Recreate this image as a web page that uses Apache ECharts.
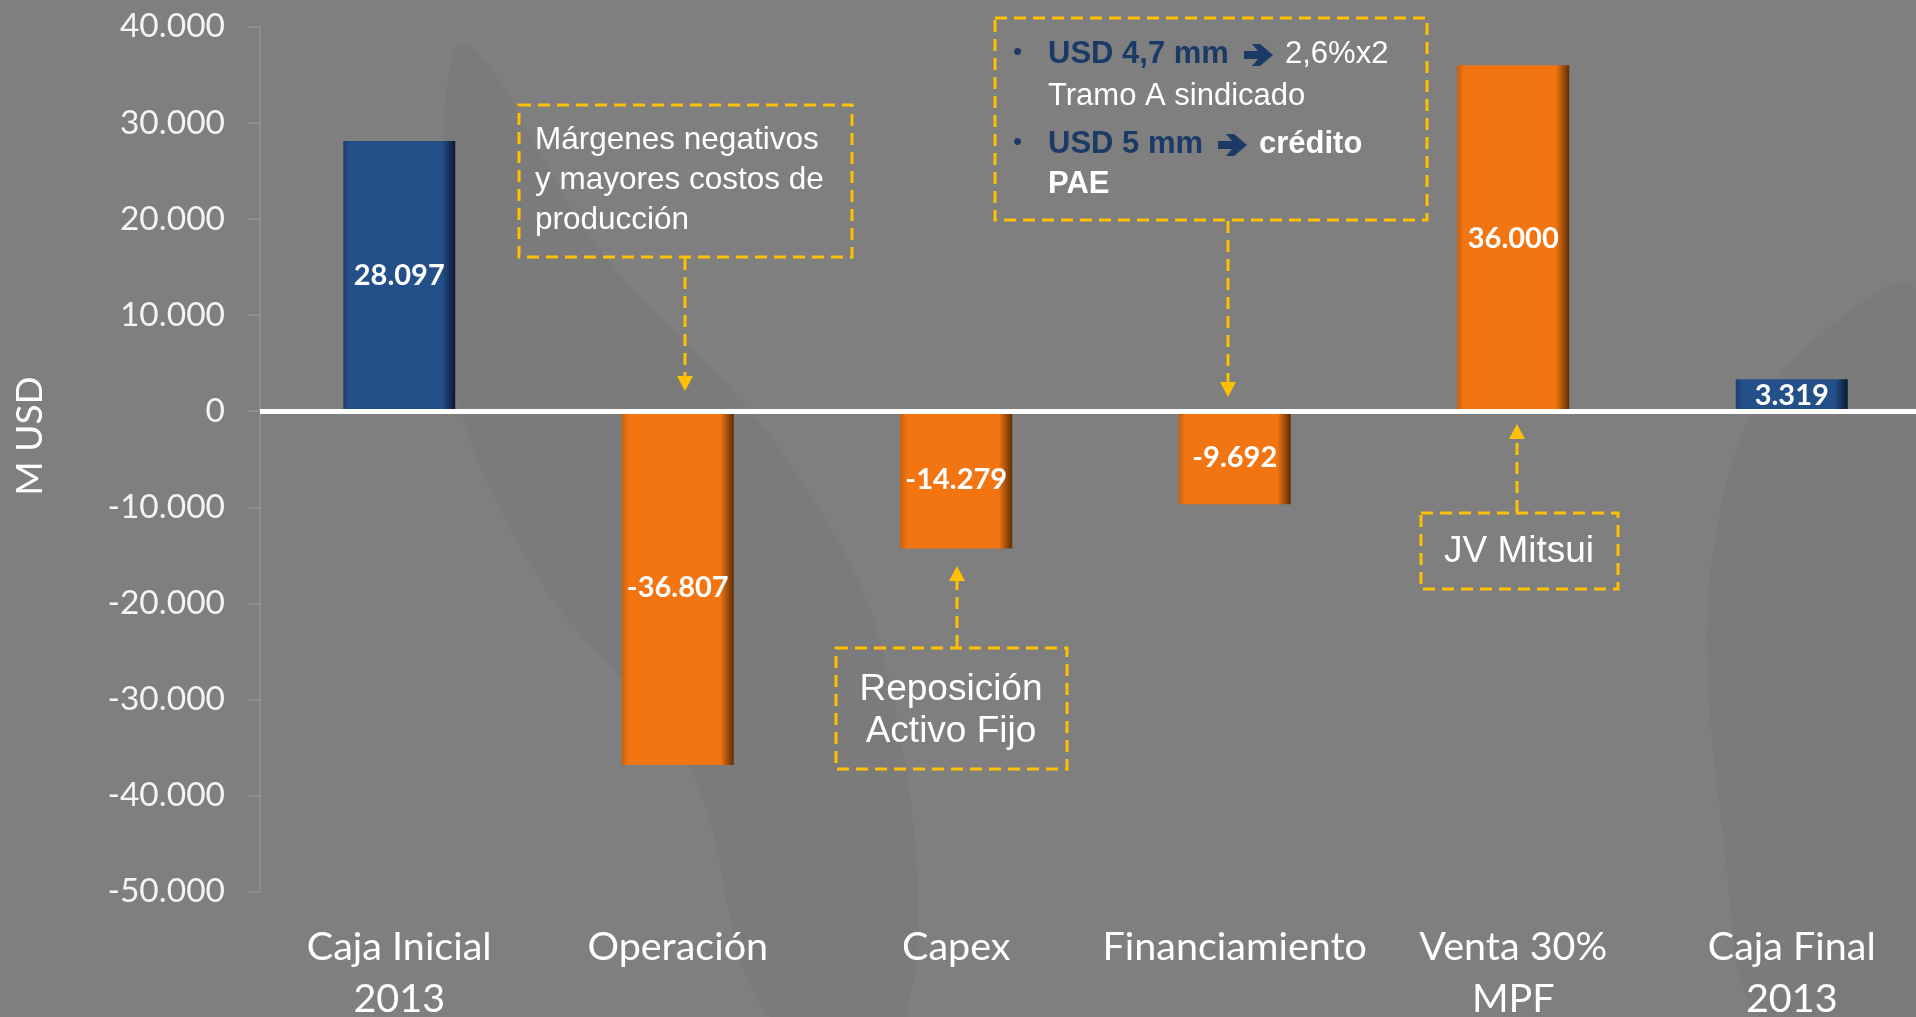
<!DOCTYPE html>
<html>
<head>
<meta charset="utf-8">
<script src="https://cdn.jsdelivr.net/npm/echarts@6/dist/echarts.min.js"></script>
<style>
html,body{margin:0;padding:0;background:#7f7f7f;}
#c{width:1916px;height:1017px;}
</style>
</head>
<body>
<div id="c"></div>
<script>
// ---- data ----
const categories = ['Caja Inicial\n2013', 'Operación', 'Capex', 'Financiamiento', 'Venta 30%\nMPF', 'Caja Final\n2013'];
const values = [28097, -36807, -14279, -9692, 36000, 3319];
const barKinds = ['total', 'change', 'change', 'change', 'change', 'total'];
const yMin = -50000, yMax = 40000, yStep = 10000;
const axisName = 'M USD';

function fmt(v) {
  const s = Math.abs(Math.round(v)).toString().replace(/\B(?=(\d{3})+(?!\d))/g, '.');
  return (v < 0 ? '-' : '') + s;
}
function grad(base, edgeL, edgeR) {
  return new echarts.graphic.LinearGradient(0, 0, 1, 0, [
    {offset: 0, color: edgeL}, {offset: 0.06, color: base},
    {offset: 0.88, color: base}, {offset: 1, color: edgeR}
  ]);
}
const blueFill = grad('#24508a', '#1c3f6e', '#0a1830');
const orangeFill = grad('#f27511', '#c85f0c', '#5e2d04');

const chart = echarts.init(document.getElementById('c'), null, {renderer: 'canvas'});

const gold = '#ffc000';
const dash = [12, 7];
const navy = '#1b3a66';
const arial = '"Liberation Sans", Arial, sans-serif';

function box(x, y, w, h) {
  return {type: 'rect', shape: {x: x, y: y, width: w, height: h},
    style: {fill: 'none', stroke: gold, lineWidth: 3, lineDash: dash}, z: 10, silent: true};
}
function vline(x, y1, y2) {
  return {type: 'line', shape: {x1: x, y1: y1, x2: x, y2: y2},
    style: {stroke: gold, lineWidth: 3, lineDash: dash}, z: 10, silent: true};
}
function tri(x, tipY, dir) { // dir: 1 = pointing down, -1 = pointing up
  const h = 15, hw = 8;
  const b = tipY - dir * h;
  return {type: 'polygon', shape: {points: [[x, tipY], [x - hw, b], [x + hw, b]]},
    style: {fill: gold}, z: 10, silent: true};
}
function heavyArrow(x0, cy) {
  return {type: 'polygon', z: 11, silent: true,
    shape: {points: [[x0, cy - 4], [x0 + 14, cy - 4], [x0 + 8, cy - 11], [x0 + 16, cy - 11],
      [x0 + 29, cy], [x0 + 16, cy + 11], [x0 + 8, cy + 11], [x0 + 14, cy + 4], [x0, cy + 4]]},
    style: {fill: navy}};
}
function txt(x, y, text, opts) {
  return Object.assign({type: 'text', x: x, y: y, z: 11, silent: true,
    style: Object.assign({text: text, fill: '#ffffff', font: '31px ' + arial,
      align: 'left', verticalAlign: 'middle', textAlign: 'left', textVerticalAlign: 'middle'}, opts || {})});
}

const graphics = [
  // subtle background decoration
  {type: 'polygon', z: -10, silent: true,
   shape: {smooth: 0.35, points: [[465, 43], [442, 200], [455, 390], [540, 580], [690, 770], [770, 1017],
     [905, 1017], [885, 660], [780, 450], [600, 250]]},
   style: {fill: 'rgba(0,0,0,0.03)'}},
  {type: 'polygon', z: -10, silent: true,
   shape: {smooth: 0.3, points: [[1916, 290], [1760, 400], [1708, 600], [1725, 850], [1760, 1017], [1916, 1017]]},
   style: {fill: 'rgba(0,0,0,0.03)'}},
  // axis name
  {type: 'text', x: 30, y: 436, rotation: Math.PI / 2, z: 11, silent: true,
   style: {text: axisName, fill: '#ffffff', font: '37px Lato', align: 'center', verticalAlign: 'middle',
     textAlign: 'center', textVerticalAlign: 'middle'}},
  // Box 1 - Operación
  box(519, 105, 333, 152),
  txt(535, 180, 'Márgenes negativos\ny mayores costos de\nproducción', {lineHeight: 40, font: '31.5px ' + arial}),
  vline(685, 258, 377), tri(685, 391, 1),
  // Box 2 - Financiamiento
  box(995, 18, 432, 202),
  txt(1013, 53, '•', {fill: navy, font: '26px ' + arial}),
  txt(1048, 54, 'USD 4,7 mm', {fill: navy, font: 'bold 31px ' + arial}),
  heavyArrow(1244, 55),
  txt(1285, 54, '2,6%x2'),
  txt(1048, 96, 'Tramo A sindicado'),
  txt(1013, 143, '•', {fill: navy, font: '26px ' + arial}),
  txt(1048, 144, 'USD 5 mm', {fill: navy, font: 'bold 31px ' + arial}),
  heavyArrow(1218, 145),
  txt(1259, 144, 'crédito', {font: 'bold 31px ' + arial}),
  txt(1048, 184, 'PAE', {font: 'bold 31px ' + arial}),
  vline(1228, 221, 383), tri(1228, 397, 1),
  // Box 3 - Capex
  box(836, 648, 231, 121),
  txt(951, 711, 'Reposición\nActivo Fijo', {font: '37px ' + arial, lineHeight: 42, align: 'center', textAlign: 'center'}),
  vline(957, 647, 580), tri(957, 566, -1),
  // Box 4 - Venta
  box(1421, 513, 197, 76),
  txt(1519, 552, 'JV Mitsui', {font: '37px ' + arial, align: 'center', textAlign: 'center'}),
  vline(1517, 512, 438), tri(1517, 424, -1)
];

const option = {
  backgroundColor: '#7f7f7f',
  animation: false,
  grid: {left: 260, right: -15, top: 26.7, bottom: 125.3, outerBoundsMode: 'none', containLabel: false},
  xAxis: {
    type: 'category',
    data: categories,
    axisLine: {show: false, onZero: false},
    axisTick: {show: false},
    axisLabel: {color: '#ffffff', fontFamily: 'Lato', fontSize: 39.5, lineHeight: 52, margin: 30, interval: 0}
  },
  yAxis: {
    type: 'value', min: yMin, max: yMax, interval: yStep,
    axisLine: {show: true, lineStyle: {color: '#8d8d8d', width: 2}},
    axisTick: {show: true, length: 12, lineStyle: {color: '#8d8d8d', width: 2}},
    splitLine: {show: false},
    axisLabel: {color: '#f4f4f4', fontFamily: 'Lato', fontSize: 33.5, margin: 35, formatter: fmt}
  },
  series: [{
    type: 'bar',
    barWidth: 112,
    data: values.map((v, i) => ({value: v, itemStyle: {color: barKinds[i] === 'total' ? blueFill : orangeFill}})),
    label: {
      show: true, position: 'inside', color: '#ffffff', fontFamily: 'Lato', fontWeight: 'bold', fontSize: 29,
      formatter: p => fmt(p.value)
    },
    markLine: {
      silent: true, symbol: 'none', label: {show: false},
      lineStyle: {color: '#ffffff', width: 5, type: 'solid'},
      data: [{yAxis: 0}],
      z: 5
    }
  }],
  graphic: graphics
};
chart.setOption(option);
</script>
</body>
</html>
